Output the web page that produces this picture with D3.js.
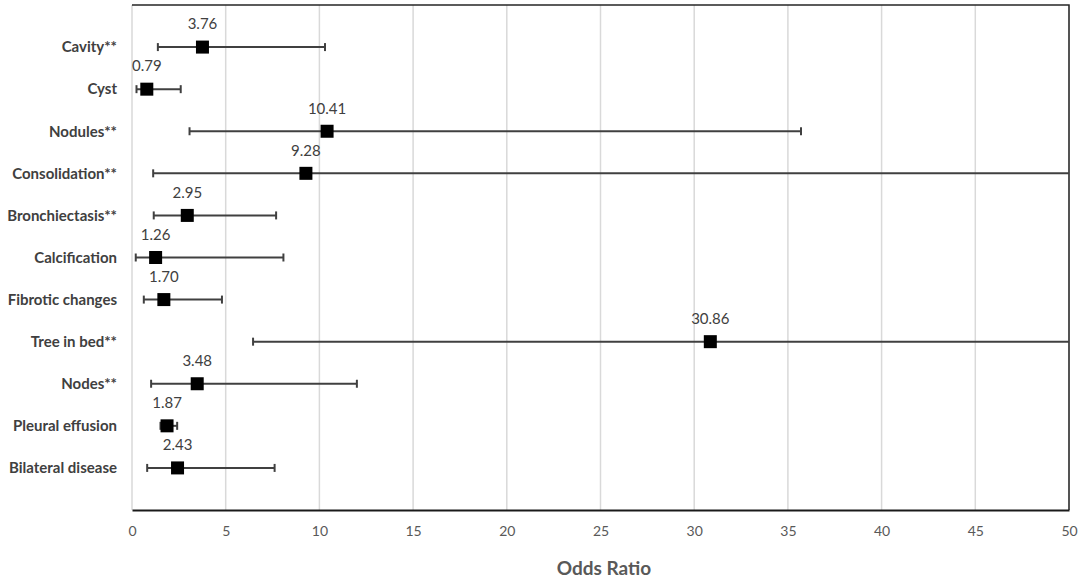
<!DOCTYPE html>
<html>
<head>
<meta charset="utf-8">
<script src="https://cdn.jsdelivr.net/npm/d3@7"></script>
<style>
  body { margin: 0; background: #fff; }
  text { font-family: Lato, "Open Sans", sans-serif; }
</style>
</head>
<body>
<div id="chartArea"></div>
<script>
// categories top to bottom
const categories = ["Cavity**", "Cyst", "Nodules**", "Consolidation**", "Bronchiectasis**",
  "Calcification", "Fibrotic changes", "Tree in bed**", "Nodes**", "Pleural effusion", "Bilateral disease"];
const oddsRatio = [3.76, 0.79, 10.41, 9.28, 2.95, 1.26, 1.70, 30.86, 3.48, 1.87, 2.43];
const ciLower   = [1.38, 0.24, 3.07, 1.13, 1.16, 0.20, 0.63, 6.46, 1.02, 1.52, 0.81];
const ciUpper   = [10.3, 2.60, 35.7, 60, 7.69, 8.08, 4.80, 60, 12.0, 2.41, 7.61];
const xTicks = [0, 5, 10, 15, 20, 25, 30, 35, 40, 45, 50];

const W = 1084, H = 583;
const mLeft = 132, mRight = 1069, mTop = 5, mBottom = 510;

const svg = d3.select("#chartArea").append("svg")
  .attr("width", W)
  .attr("height", H);

const x = d3.scaleLinear().domain([0, 50]).range([mLeft, mRight]);
// excel-style: rows sit at 11..1 on a 0..12 axis
const y = d3.scaleLinear().domain([0, 12]).range([mBottom, mTop]);

const rows = categories.map((c, i) => ({
  name: c, or: oddsRatio[i], lo: ciLower[i], hi: ciUpper[i], pos: categories.length - i
}));

// gridlines
svg.append("g").selectAll("line")
  .data(xTicks)
  .enter().append("line")
    .attr("x1", d => x(d)).attr("x2", d => x(d))
    .attr("y1", mTop).attr("y2", mBottom)
    .attr("stroke", "#d9d9d9")
    .attr("stroke-width", 1.5);

// frame (top, right)
svg.append("path")
  .attr("d", `M${mLeft},${mTop}H${mRight}V${mBottom}`)
  .attr("fill", "none")
  .attr("stroke", "#262626")
  .attr("stroke-width", 1.5);

// x axis
const xAxis = d3.axisBottom(x).tickValues(xTicks).tickSize(0).tickPadding(16);
const ax = svg.append("g")
  .attr("transform", `translate(0,${mBottom})`)
  .call(xAxis);
ax.select(".domain").attr("stroke", "#1a1a1a").attr("stroke-width", 2);
ax.selectAll("text")
  .attr("fill", "#595959")
  .style("font-size", "14px")
  .style("font-family", "Lato, 'Open Sans', sans-serif");

svg.append("text")
  .attr("x", 604)
  .attr("y", 575)
  .attr("text-anchor", "middle")
  .attr("fill", "#595959")
  .attr("font-weight", "bold")
  .attr("font-size", "19px")
  .text("Odds Ratio");

// category labels
svg.append("g").selectAll("text")
  .data(rows)
  .enter().append("text")
    .attr("x", 117)
    .attr("y", d => y(d.pos))
    .attr("dy", "0.35em")
    .attr("text-anchor", "end")
    .attr("fill", "#404040")
    .attr("font-weight", "bold")
    .attr("font-size", "15px")
    .text(d => d.name);

// clip so open-ended CIs stop at the frame
svg.append("clipPath").attr("id", "plotClip")
  .append("rect").attr("x", mLeft).attr("y", mTop)
  .attr("width", mRight - mLeft).attr("height", mBottom - mTop);

const bars = svg.append("g").attr("clip-path", "url(#plotClip)");
const eb = "#404040";

bars.selectAll(".ci")
  .data(rows)
  .enter().append("line")
    .attr("class", "ci")
    .attr("x1", d => x(d.lo)).attr("x2", d => x(d.hi))
    .attr("y1", d => y(d.pos)).attr("y2", d => y(d.pos))
    .attr("stroke", eb).attr("stroke-width", 2);

const caps = [];
rows.forEach(d => {
  caps.push({ v: d.lo, pos: d.pos });
  if (d.hi <= 50) caps.push({ v: d.hi, pos: d.pos });
});
bars.selectAll(".cap")
  .data(caps)
  .enter().append("line")
    .attr("class", "cap")
    .attr("x1", d => x(d.v)).attr("x2", d => x(d.v))
    .attr("y1", d => y(d.pos) - 4).attr("y2", d => y(d.pos) + 4)
    .attr("stroke", eb).attr("stroke-width", 2);

// markers
const sz = 13;
svg.append("g").selectAll("rect")
  .data(rows)
  .enter().append("rect")
    .attr("x", d => x(d.or) - sz / 2)
    .attr("y", d => y(d.pos) - sz / 2)
    .attr("width", sz).attr("height", sz)
    .attr("fill", "#000");

// data labels
svg.append("g").selectAll("text")
  .data(rows)
  .enter().append("text")
    .attr("x", d => x(d.or))
    .attr("y", d => y(d.pos) - 23)
    .attr("dy", "0.35em")
    .attr("text-anchor", "middle")
    .attr("fill", "#404040")
    .attr("font-size", "15px")
    .text(d => d.or.toFixed(2));
</script>
</body>
</html>
